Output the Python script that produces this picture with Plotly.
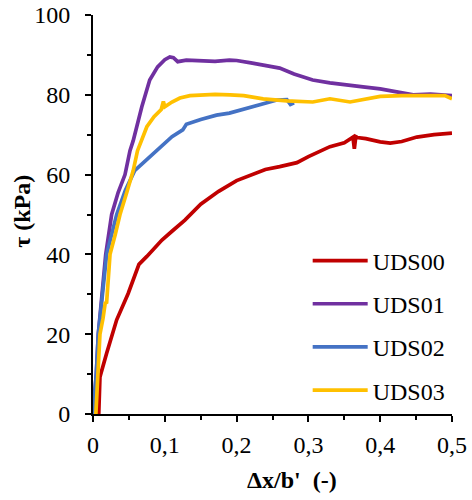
import plotly.graph_objects as go

# UDS00 (red)
x00 = [0.008, 0.009, 0.0097, 0.019, 0.033, 0.049, 0.061, 0.064, 0.075, 0.096, 0.110,
       0.128, 0.150, 0.175, 0.200, 0.220, 0.240, 0.260, 0.284, 0.300, 0.330, 0.350, 0.362, 0.364,
       0.366, 0.368, 0.380, 0.400, 0.414, 0.430, 0.451, 0.475, 0.500]
y00 = [0, 4, 9.3, 15.2, 23.6, 30.2, 36.1, 37.5, 39.5, 43.6, 45.8,
       48.6, 52.6, 55.8, 58.5, 60, 61.3, 62, 63, 64.5, 67, 68, 69.4, 66.5,
       69.5, 69.3, 69, 68.2, 67.9, 68.3, 69.4, 70, 70.4]

# UDS01 (purple)
x01 = [0, 0.0046, 0.0074, 0.013, 0.0177, 0.026, 0.035, 0.0446, 0.0515, 0.056, 0.068, 0.079, 0.090,
       0.100, 0.107, 0.112, 0.118, 0.130, 0.150, 0.170, 0.190, 0.200, 0.220, 0.240, 0.260, 0.280,
       0.306, 0.330, 0.350, 0.376, 0.400, 0.420, 0.446, 0.470, 0.500]
y01 = [0, 10, 20, 30, 40, 50, 55.5, 60, 66, 68.5, 77, 83.7, 87,
       88.8, 89.5, 89.3, 88.3, 88.7, 88.5, 88.4, 88.7, 88.6, 88, 87.3, 86.7, 85.2,
       83.7, 83, 82.5, 82, 81.5, 80.8, 80, 80.2, 79.8]

# UDS02 (blue)
x02 = [0, 0.0046, 0.0074, 0.013, 0.019, 0.033, 0.045, 0.058, 0.070, 0.089, 0.110, 0.125, 0.130,
       0.150, 0.172, 0.190, 0.205, 0.230, 0.256, 0.270, 0.275, 0.280]
y02 = [0, 10, 20, 30, 40, 50, 56, 61, 63, 66.2, 69.5, 71.2, 72.6,
       73.8, 74.9, 75.4, 76.2, 77.3, 78.7, 78.8, 77.6, 78]

# UDS03 (yellow)
x03 = [0.004, 0.0065, 0.0097, 0.014, 0.017, 0.019, 0.020, 0.0237, 0.031, 0.0376, 0.047, 0.056,
       0.062, 0.075, 0.085, 0.095, 0.098, 0.100, 0.110, 0.121, 0.135, 0.149, 0.170, 0.191,
       0.210, 0.237, 0.270, 0.306, 0.330, 0.358, 0.380, 0.400, 0.430, 0.469, 0.490, 0.500]
y03 = [0, 10, 20, 24, 27.8, 28, 31, 40, 45, 50, 55.5, 61,
       66, 72, 74.5, 76.3, 78.3, 77, 78.2, 79.2, 79.8, 80, 80.1, 80,
       79.8, 79, 78.5, 78.2, 79, 78.2, 79, 79.6, 79.8, 79.9, 79.8, 79]

series = [
    ("UDS00", x00, y00, "#C00000"),
    ("UDS01", x01, y01, "#7030A0"),
    ("UDS02", x02, y02, "#4472C4"),
    ("UDS03", x03, y03, "#FFC000"),
]

x_title = "<b>Δx/b'  (-)</b>"
y_title = "<b>τ (kPa)</b>"

FONT = "Liberation Serif, Times New Roman, serif"
FS = 24

fig = go.Figure()
for i, (name, xs, ys, col) in enumerate(series):
    fig.add_trace(go.Scatter(x=xs, y=ys, mode="lines", name=name,
                             legendgroup=f"g{i}",
                             line=dict(color=col, width=3.7)))

axis_common = dict(
    showline=True, linecolor="black", linewidth=2,
    ticks="outside", ticklen=6, tickwidth=2, tickcolor="black",
    showgrid=False, zeroline=False, automargin=False,
    tickfont=dict(family=FONT, size=FS, color="black"),
)

fig.update_layout(
    width=472, height=500,
    margin=dict(l=93, r=20, t=15, b=86),
    plot_bgcolor="white", paper_bgcolor="white",
    separators=", ",
    font=dict(family=FONT, size=FS, color="black"),
    xaxis=dict(range=[0, 0.5], dtick=0.1, tick0=0, ticklabelstandoff=2,
               minor=dict(dtick=0.05, ticks="outside", ticklen=4, tickwidth=2, tickcolor="black"),
               **axis_common),
    yaxis=dict(range=[0, 100], dtick=20, tick0=0, ticklabelstandoff=10,
               minor=dict(dtick=10, ticks="outside", ticklen=4, tickwidth=2, tickcolor="black"),
               **axis_common),
    showlegend=True,
    legend=dict(x=0.598, y=0.44, xanchor="left", yanchor="top",
                bgcolor="rgba(0,0,0,0)", tracegroupgap=9, itemwidth=55,
                font=dict(family=FONT, size=FS, color="black")),
)

fig.add_annotation(text=x_title, xref="paper", yref="paper", x=0.553, y=-0.165,
                   xanchor="center", yanchor="middle", showarrow=False,
                   font=dict(family=FONT, size=FS, color="black"))
fig.add_annotation(text=y_title, xref="paper", yref="paper", x=-0.198, y=0.509,
                   xanchor="center", yanchor="middle", showarrow=False, textangle=-90,
                   font=dict(family=FONT, size=FS, color="black"))

fig.write_html("out.html")
